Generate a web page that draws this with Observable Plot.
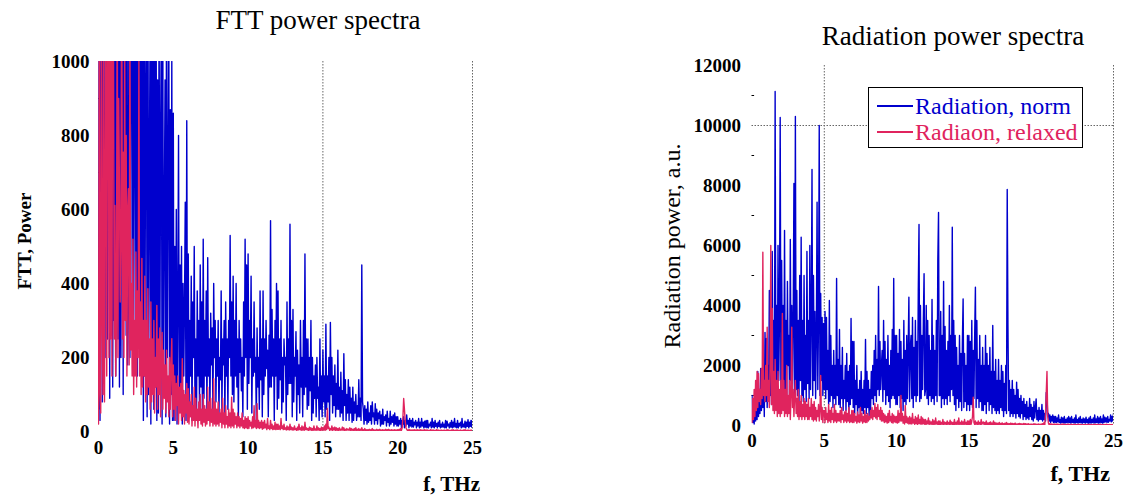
<!DOCTYPE html>
<html>
<head>
<meta charset="utf-8">
<script src="https://cdn.jsdelivr.net/npm/d3@7"></script>
<script src="https://cdn.jsdelivr.net/npm/@observablehq/plot@0.6"></script>
<style>
  html, body { margin: 0; padding: 0; background: #fff; }
  #wrap { position: relative; width: 1124px; height: 495px; overflow: hidden; font-family: "Liberation Serif", "Times New Roman", serif; }
  #wrap svg { position: absolute; top: 0; }
  .txt { position: absolute; white-space: nowrap; color: #000; line-height: 1; }
  .rot { transform: translate(-50%, -50%) rotate(-90deg); }
</style>
</head>
<body>
<div id="wrap"></div>
<script>
const fStep = 0.05;
const xTicks = [0, 5, 10, 15, 20, 25];
const yTicksL = [0, 200, 400, 600, 800, 1000];
const yMinorL = [100, 300, 500, 700, 900];
const yTicksR = [0, 2000, 4000, 6000, 8000, 10000, 12000];
const yMinorR = [1000, 3000, 5000, 7000, 9000, 11000];
const seriesNames = ["Radiation, norm", "Radiaon, relaxed"];

// Left panel: FTT power, normal (blue)  -- one row per THz
const fttNorm = [
  60,1400,30,900,1200,80,1500,150,600,1300,200,1800,250,1100,1600,90,1300,400,2000,120,
  1100,300,1800,150,700,1500,250,2000,120,1600,200,900,1400,100,1700,350,1200,260,1500,180,
  350,1700,200,1100,1500,400,1900,250,800,1300,300,1600,150,1400,500,1200,220,1800,300,1000,
  30,1400,150,890,1200,40,1500,100,700,1100,20,1300,180,1600,60,1000,120,1250,30,950,
  50,1200,150,800,1100,20,1050,100,600,950,40,1300,200,700,1100,20,870,100,1000,30,
  860,30,500,100,600,20,350,800,60,450,120,500,20,400,150,350,620,30,840,60,
  480,40,300,150,420,30,350,200,500,60,250,30,380,150,300,80,450,120,350,40,
  520,90,300,150,380,30,470,150,250,60,320,180,280,40,400,200,300,80,250,150,
  300,40,200,140,380,60,250,180,300,30,350,150,250,60,300,200,530,150,350,100,
  420,80,300,150,400,120,250,30,300,160,250,110,200,40,350,150,520,200,450,60,
  480,130,300,200,420,50,250,150,350,160,200,30,280,120,200,60,380,140,250,40,
  380,100,250,150,300,170,220,40,260,120,570,120,330,150,250,30,300,150,400,60,
  380,90,250,140,300,50,200,80,250,180,200,30,350,100,250,130,560,130,300,40,
  330,80,200,150,270,30,220,100,180,50,300,120,200,40,300,100,480,120,250,60,
  250,70,200,110,300,30,200,50,150,90,180,40,200,90,120,30,250,60,150,40,
  220,80,150,40,290,60,150,80,200,30,295,100,200,50,150,70,180,40,130,60,
  220,60,120,40,160,50,110,30,210,70,140,30,100,50,140,30,120,50,90,25,
  120,30,80,50,100,30,70,40,140,40,90,30,450,80,60,20,70,30,60,20,
  80,25,50,30,70,20,80,40,50,20,75,30,60,20,50,35,55,15,45,20,
  60,20,40,30,45,15,55,25,35,15,55,20,40,25,45,15,50,20,40,15,
  40,15,30,20,35,10,30,20,40,10,30,15,45,20,30,10,35,15,30,12,
  35,12,25,18,30,10,25,15,35,10,25,12,35,15,25,10,28,12,30,10,
  30,10,20,15,25,10,35,12,25,10,30,14,22,10,25,14,30,10,20,12,
  25,12,20,10,30,10,28,15,20,10,24,12,30,10,25,12,35,12,22,10,
  30,10,22,15,25,10,35,12,20,12,28,10,25,14,32,10,25,14,30,12,
  30
];
// Left panel: FTT power, relaxed (red)
const fttRelaxed = [
  20,1200,100,50,1500,300,100,1100,80,600,1300,150,900,1400,200,1100,250,1300,150,1400,
  1100,250,611,150,300,1300,200,900,665,350,500,1400,250,755,200,1050,300,800,150,600,
  656,180,1150,220,400,150,520,100,300,150,485,120,380,200,1020,150,350,100,468,120,
  300,150,420,80,300,100,386,120,250,60,350,80,250,100,300,50,200,120,341,60,
  250,100,280,40,200,268,60,220,90,180,50,220,80,150,40,200,60,180,251,40,
  180,60,150,30,130,70,150,20,120,50,130,30,197,40,111,20,100,50,130,25,
  116,20,80,40,100,15,70,30,120,15,90,30,60,10,80,30,100,20,60,15,
  100,25,70,15,60,20,120,30,80,15,90,25,60,15,143,20,80,15,60,20,
  80,15,50,25,60,10,90,20,50,10,70,20,40,10,60,15,50,10,93,15,
  60,10,50,20,40,10,50,15,40,10,35,15,50,10,30,8,40,10,35,8,
  40,8,30,15,25,8,40,10,70,12,30,8,75,10,30,8,25,10,30,6,
  25,8,30,10,20,5,35,8,15,5,30,8,20,5,15,6,25,5,20,6,
  20,6,15,5,35,8,15,5,20,6,10,4,15,5,12,4,20,5,12,4,
  10,4,15,5,8,3,12,4,20,5,10,3,15,4,12,3,25,5,10,4,
  8,3,12,4,10,3,8,3,15,4,7,3,15,4,10,3,8,3,12,3,
  10,4,15,3,20,5,62,8,12,3,8,4,15,3,10,4,12,3,10,3,
  8,3,10,3,6,4,12,3,10,3,6,3,8,4,6,3,10,3,8,3,
  6,3,8,2,10,3,6,2,8,3,6,2,10,3,5,2,8,3,5,2,
  5,2,6,3,5,2,8,3,5,2,4,2,6,3,5,2,6,3,4,2,
  5,2,4,3,6,2,5,2,6,3,4,2,5,3,4,2,5,2,4,2,
  5,3,6,2,8,3,10,40,89,60,30,10,6,3,5,2,5,3,4,2,
  4,2,5,3,4,2,5,3,4,2,5,2,4,3,4,2,5,3,4,2,
  4,2,3,2,5,2,4,3,4,2,3,2,5,2,4,2,3,2,4,2,
  3,2,4,2,3,2,5,2,4,2,3,2,4,2,5,2,3,2,4,2,
  4,2,3,2,4,2,3,2,4,2,5,2,3,2,4,2,3,2,4,2,
  3
];
// Right panel: radiation power, normal (blue)
const radNorm = [
  1000,100,300,50,500,150,800,200,1800,300,1200,400,1900,500,1400,600,2000,300,3100,800,
  2900,600,2000,900,4500,1000,3000,700,5800,1200,3500,800,11133,1200,4000,900,6000,1500,3500,10267,
  1000,5500,1500,4000,800,6500,1200,3500,900,4800,2000,3000,800,6200,1500,4000,1200,3500,8067,1000,
  10300,1200,4500,1000,3500,800,5000,1500,6278,1000,3500,800,5000,1200,3000,800,5800,1400,3500,900,
  6000,1200,3500,8533,1000,5000,1500,3800,900,3000,7444,1200,3500,10000,1000,4400,1500,3600,1000,3400,
  1200,3800,900,3600,1200,2500,700,4167,800,3000,1000,2000,600,2500,900,2000,700,4900,1000,2200,
  700,3200,600,2000,900,2600,500,1500,900,2000,500,2400,800,1800,400,2000,700,3567,900,2800,
  600,2800,400,1500,700,2000,300,1200,600,1500,300,1800,500,1200,400,1500,600,2867,400,1800,
  600,1500,300,1200,500,1800,900,2000,700,2500,1000,3000,800,2200,1200,4633,1000,2800,1200,2000,
  2500,800,3500,1200,2800,700,2200,1000,3000,800,2000,600,2500,900,3200,1000,4900,900,3000,700,
  3000,700,2400,1000,3200,600,2800,900,2200,500,3500,800,2500,700,3000,900,2500,4278,800,2600,
  3000,900,3600,600,2600,1000,3500,800,2800,1000,4500,6700,800,4000,900,3000,1200,3500,5056,1000,
  1200,4000,900,3500,700,3000,1000,2500,800,4200,900,3000,700,2500,1000,3500,800,5500,7100,1000,
  1000,3800,600,3000,900,4800,700,3300,900,2500,700,2800,1000,4000,800,3000,1200,6611,1000,3500,
  700,3000,500,2600,900,2000,600,3000,800,2400,500,2800,4222,600,2400,800,2000,500,3000,700,
  3000,500,2800,700,3500,600,2500,900,3000,4611,600,3500,900,2200,600,3000,800,2000,500,2600,
  500,2000,700,3000,400,2400,800,2000,500,2600,700,1800,400,3333,600,1800,500,2200,400,1500,
  500,2200,400,1500,600,2000,500,1800,300,1400,500,2000,400,7867,3333,500,1500,300,1200,400,
  1500,300,1200,400,1000,250,1444,400,1200,300,900,250,1000,400,800,200,900,300,700,200,
  800,250,600,200,900,300,700,200,600,150,800,250,600,889,200,500,150,600,200,500,
  200,700,150,500,200,400,150,1100,1000,300,400,150,350,100,300,150,350,100,300,100,
  300,100,250,120,350,100,200,80,280,100,250,90,300,80,200,100,250,90,300,100,
  250,80,300,100,200,90,250,80,350,100,200,80,250,100,300,90,200,80,250,100,
  220,80,280,100,200,70,250,90,300,80,200,100,250,80,350,90,220,100,300,80,
  250,90,300,100,220,80,350,100,280,120,250,100,300,110,200,150,350,120,300,150,
  400
];
// Right panel: radiation power, relaxed (red)
const radRelaxed = [
  100,900,200,1200,300,1500,500,1800,600,1733,800,1200,700,1900,900,5778,1000,1500,800,2000,
  1000,3278,800,1500,600,2000,6000,700,3900,500,1800,400,2200,500,1500,300,1800,400,1200,300,
  1500,400,3733,500,1500,300,1200,400,2000,300,1000,400,1500,200,1000,3278,600,1200,300,1000,
  1500,400,900,300,1200,200,800,300,1000,200,700,300,900,200,800,300,700,200,900,200,
  600,300,900,200,700,150,800,200,600,150,500,300,700,150,500,1667,200,600,100,500,
  500,100,600,200,400,100,700,150,500,100,600,200,400,100,700,150,500,100,400,150,
  400,150,500,100,600,200,350,100,450,150,500,100,400,150,600,100,350,120,500,100,
  500,100,400,150,300,80,450,120,350,100,600,150,400,80,300,120,500,100,350,100,
  400,150,300,200,500,250,600,200,500,300,733,250,600,200,700,300,500,200,600,150,
  500,150,400,100,350,120,300,80,400,100,500,150,300,100,400,80,350,120,300,100,
  300,80,500,100,400,150,1000,150,400,80,300,50,667,100,300,80,250,50,300,60,
  250,50,400,80,200,40,300,60,250,40,350,60,200,50,300,40,250,60,200,40,
  200,40,150,60,250,30,150,50,120,30,200,40,150,30,250,50,120,30,150,30,
  150,30,100,40,200,30,120,40,100,30,150,40,100,30,180,40,120,30,100,30,
  200,30,100,40,150,30,250,40,100,30,150,40,120,30,200,40,100,30,150,30,
  150,30,200,40,150,300,944,100,30,150,40,100,30,150,40,100,30,200,40,100,
  120,25,100,30,150,25,80,30,100,20,120,25,80,30,150,25,100,30,80,20,
  80,20,100,25,70,20,90,25,60,20,80,20,100,25,70,20,60,25,80,20,
  70,20,60,25,80,20,50,20,60,15,70,20,60,25,50,20,70,20,60,15,
  50,15,60,20,40,15,50,20,40,15,60,20,50,15,40,20,50,15,40,15,
  50,20,60,20,100,30,400,1100,1800,300,80,20,60,15,50,20,40,15,50,15,
  40,15,50,20,40,15,35,15,40,15,50,20,40,15,35,15,40,15,45,15,
  35,15,40,15,30,10,40,15,30,10,35,15,40,15,30,10,35,15,30,10,
  30,10,35,15,30,10,40,15,30,10,35,15,30,10,40,15,30,10,35,10,
  30,10,40,15,30,10,35,15,30,10,40,15,30,10,35,15,30,10,35,10,
  30
];

[["fttNorm", fttNorm], ["fttRelaxed", fttRelaxed], ["radNorm", radNorm], ["radRelaxed", radRelaxed]].forEach(([n, a]) => {
  if (a.length !== 501) throw new Error(n + " has length " + a.length);
});

// ---------- drawing ----------
const BLUE = "#0000cd";
const RED = "#e0245e";
const GRID = "#666";
const LW = 1.4;
const FONT = '"Liberation Serif", "Times New Roman", serif';
const fmt = d => String(d);
const toPts = vals => vals.map((v, i) => ({f: +(i * fStep).toFixed(2), v}));

const wrap = document.getElementById("wrap");

const left = Plot.plot({
  width: 560, height: 495,
  marginLeft: 98, marginRight: 88, marginTop: 61, marginBottom: 64,
  style: {fontFamily: FONT, fontSize: "19px", fontWeight: "bold", background: "transparent", color: "#000", overflow: "visible"},
  x: {domain: [0, 25], ticks: xTicks, tickFormat: fmt, tickSize: 0, tickPadding: 9, label: null},
  y: {domain: [0, 1000], ticks: yTicksL, tickFormat: fmt, tickSize: 0, tickPadding: 9, label: null},
  marks: [
    Plot.ruleX([15, 25], {stroke: GRID, strokeWidth: 1, strokeDasharray: "1.5,1.5"}),
    Plot.ruleY(yMinorL, {x1: 0, x2: 0.18, stroke: "#000", strokeWidth: 1}),
    Plot.line(toPts(fttNorm), {x: "f", y: "v", stroke: BLUE, strokeWidth: LW, clip: true}),
    Plot.line(toPts(fttRelaxed), {x: "f", y: "v", stroke: RED, strokeWidth: LW, clip: true})
  ]
});
left.style.left = "0px";
wrap.appendChild(left);

const right = Plot.plot({
  width: 564, height: 495,
  marginLeft: 191.5, marginRight: 11, marginTop: 65, marginBottom: 70,
  style: {fontFamily: FONT, fontSize: "19px", fontWeight: "bold", background: "transparent", color: "#000", overflow: "visible"},
  x: {domain: [0, 25], ticks: xTicks, tickFormat: fmt, tickSize: 0, tickPadding: 8, label: null},
  y: {domain: [0, 12000], ticks: yTicksR, tickFormat: fmt, tickSize: 0, tickPadding: 11, label: null},
  marks: [
    Plot.ruleX([5, 25], {stroke: GRID, strokeWidth: 1, strokeDasharray: "1.5,1.5"}),
    Plot.ruleY([10000], {stroke: GRID, strokeWidth: 1, strokeDasharray: "1.5,1.5"}),
    Plot.ruleY(yMinorR, {x1: 0, x2: 0.18, stroke: "#000", strokeWidth: 1}),
    Plot.line(toPts(radNorm), {x: "f", y: "v", stroke: BLUE, strokeWidth: LW, clip: true}),
    Plot.line(toPts(radRelaxed), {x: "f", y: "v", stroke: RED, strokeWidth: LW, clip: true})
  ]
});
right.style.left = "560px";
wrap.appendChild(right);

function addText(str, css, cls) {
  const d = document.createElement("div");
  d.className = "txt" + (cls ? " " + cls : "");
  d.textContent = str;
  Object.assign(d.style, css);
  wrap.appendChild(d);
  return d;
}
// titles
addText("FTT power spectra", {left: "318px", top: "20px", fontSize: "27px", transform: "translate(-50%, -50%)"});
addText("Radiation power spectra", {left: "953px", top: "36px", fontSize: "27px", transform: "translate(-50%, -50%)"});
// axis labels
addText("FTT, Power", {left: "24px", top: "241px", fontSize: "19px", fontWeight: "bold"}, "rot");
addText("Radiation power, a.u.", {left: "672px", top: "246px", fontSize: "24px"}, "rot");
addText("f, THz", {left: "480px", top: "484px", fontSize: "21px", fontWeight: "bold", transform: "translate(-100%, -50%)"});
addText("f, THz", {left: "1110px", top: "474px", fontSize: "22px", fontWeight: "bold", transform: "translate(-100%, -50%)"});

// legend
const leg = document.createElement("div");
Object.assign(leg.style, {position: "absolute", left: "868px", top: "87px", width: "215px", height: "61px",
  border: "1px solid #000", background: "#fff", boxSizing: "border-box"});
wrap.appendChild(leg);
[[seriesNames[0], BLUE, 18], [seriesNames[1], RED, 44]].forEach(([name, col, y]) => {
  const ln = document.createElement("div");
  Object.assign(ln.style, {position: "absolute", left: "8px", top: (y - 1) + "px", width: "36px", height: "0", borderTop: "2px solid " + col});
  leg.appendChild(ln);
  const t = document.createElement("div");
  t.className = "txt";
  t.textContent = name;
  Object.assign(t.style, {left: "46px", top: y + "px", fontSize: "24px", color: col, transform: "translateY(-50%)"});
  leg.appendChild(t);
});
</script>
</body>
</html>
